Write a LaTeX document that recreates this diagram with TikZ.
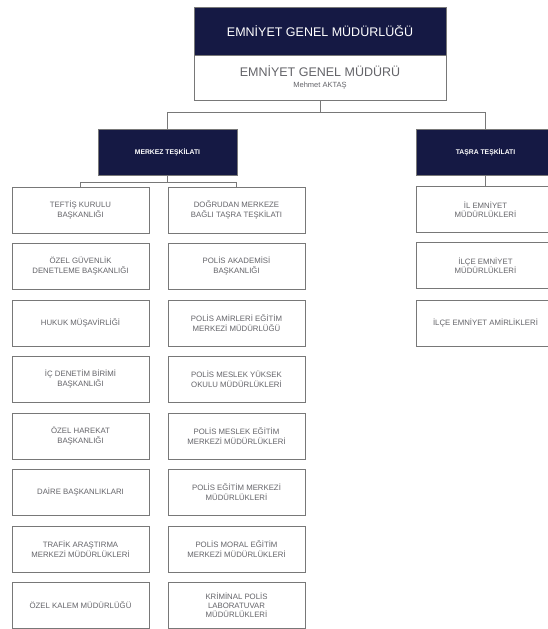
\documentclass[tikz,border=0pt]{standalone}
\usepackage{fontspec}
\setmainfont{Liberation Sans}
\usepackage{tikz}
\usetikzlibrary{positioning}

\definecolor{navy}{RGB}{21,25,68}
\definecolor{boxline}{RGB}{120,120,120}
\definecolor{boxtext}{RGB}{100,100,105}

\tikzset{
  unitbox/.style={draw=boxline, line width=0.9pt, fill=white, inner sep=1pt,
    minimum width=137, minimum height=46, align=center, text=boxtext,
    font=\fontsize{7.8}{9.3}\selectfont},
  headbox/.style={draw=boxline, line width=0.9pt, fill=navy, inner sep=0pt,
    minimum width=139, minimum height=46, align=center, text=white,
    font=\fontsize{6.8}{8}\selectfont\bfseries},
  conn/.style={draw=boxline, line width=0.9pt}
}

\begin{document}
\begin{tikzpicture}[x=1pt, y=-1pt]
\useasboundingbox (0,0) rectangle (547,629);
% top: directorate and director
    \node[draw=boxline, line width=0.9pt, fill=navy, minimum width=252, minimum height=48,
          text=white, font=\fontsize{12.5}{14}\selectfont, inner sep=0pt]
          (egm) at (320,31) {EMNİYET GENEL MÜDÜRLÜĞÜ};
    \node[draw=boxline, line width=0.9pt, fill=white, minimum width=252, minimum height=45,
          align=center, text=boxtext, inner sep=0pt]
          (mudur) at (320,77.5) {{\fontsize{12.5}{15}\selectfont EMNİYET GENEL MÜDÜRÜ}\\[-1pt]
                                 {\fontsize{7.5}{9}\selectfont Mehmet AKTAŞ}};
% two branches
    \node[headbox] (merkez) at (167.5,152.5) {MERKEZ TEŞKİLATI};
    \node[headbox] (tasra)  at (485.5,152.5) {TAŞRA TEŞKİLATI};
% merkez, left column
    \node[unitbox] (teftis)  at (80.5,210) {TEFTİŞ KURULU\\BAŞKANLIĞI};
    \node[unitbox] (guvenlik) at (80.5,266) {ÖZEL GÜVENLİK\\DENETLEME BAŞKANLIĞI};
    \node[unitbox] (hukuk)   at (80.5,323) {HUKUK MÜŞAVİRLİĞİ};
    \node[unitbox] (icden)   at (80.5,379) {İÇ DENETİM BİRİMİ\\BAŞKANLIĞI};
    \node[unitbox] (harekat) at (80.5,436) {ÖZEL HAREKAT\\BAŞKANLIĞI};
    \node[unitbox] (daire)   at (80.5,492) {DAİRE BAŞKANLIKLARI};
    \node[unitbox] (trafik)  at (80.5,549) {TRAFİK ARAŞTIRMA\\MERKEZİ MÜDÜRLÜKLERİ};
    \node[unitbox] (kalem)   at (80.5,605) {ÖZEL KALEM MÜDÜRLÜĞÜ};
% merkez, right column
    \node[unitbox] (dogrudan) at (236.5,210) {DOĞRUDAN MERKEZE\\BAĞLI TAŞRA TEŞKİLATI};
    \node[unitbox] (akademi)  at (236.5,266) {POLİS AKADEMİSİ\\BAŞKANLIĞI};
    \node[unitbox] (amirler)  at (236.5,323) {POLİS AMİRLERİ EĞİTİM\\MERKEZİ MÜDÜRLÜĞÜ};
    \node[unitbox] (yuksek)   at (236.5,379) {POLİS MESLEK YÜKSEK\\OKULU MÜDÜRLÜKLERİ};
    \node[unitbox] (meslek)   at (236.5,436) {POLİS MESLEK EĞİTİM\\MERKEZİ MÜDÜRLÜKLERİ};
    \node[unitbox] (egitim)   at (236.5,492) {POLİS EĞİTİM MERKEZİ\\MÜDÜRLÜKLERİ};
    \node[unitbox] (moral)    at (236.5,549) {POLİS MORAL EĞİTİM\\MERKEZİ MÜDÜRLÜKLERİ};
    \node[unitbox] (kriminal) at (236.5,605) {KRİMİNAL POLİS\\LABORATUVAR\\MÜDÜRLÜKLERİ};
% tasra column
    \node[unitbox, minimum width=138] (il)    at (485.5,209.5) {İL EMNİYET\\MÜDÜRLÜKLERİ};
    \node[unitbox, minimum width=138] (ilce)  at (485.5,265.5) {İLÇE EMNİYET\\MÜDÜRLÜKLERİ};
    \node[unitbox, minimum width=138] (amirl) at (485.5,323) {İLÇE EMNİYET AMİRLİKLERİ};
% connectors
    \draw[conn] (mudur.south) -- ++(0,12) -| (merkez.north);
    \draw[conn] (mudur.south) -- ++(0,12) -| (tasra.north);
    \draw[conn] (merkez.south) -- ++(0,6) -| (teftis.north);
    \draw[conn] (merkez.south) -- ++(0,6) -| (dogrudan.north);
    \draw[conn] (tasra.south) -- (il.north);
\end{tikzpicture}
\end{document}
